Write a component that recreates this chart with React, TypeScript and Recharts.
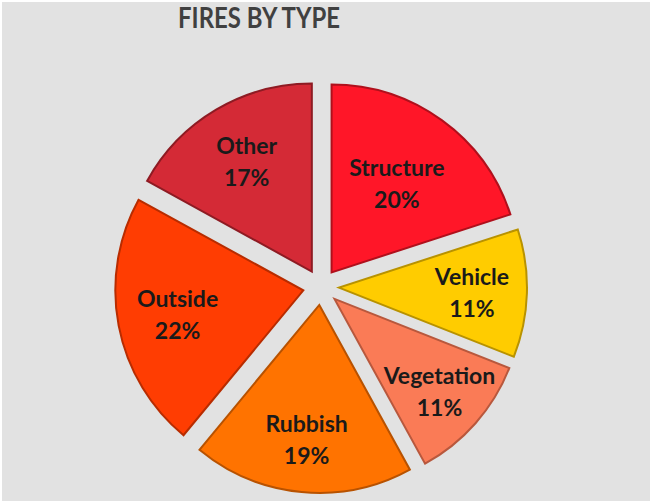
import React from 'react';
import { PieChart, Pie, Cell } from 'recharts';

const categories = ['Structure', 'Vehicle', 'Vegetation', 'Rubbish', 'Outside', 'Other'];
const values = [20, 11, 11, 19, 22, 17];
const colors = ['#FF1628', '#FFCC00', '#FA7B56', '#FF7300', '#FF3D02', '#D42A36'];
const strokes = ['#B0101C', '#B89200', '#B8583D', '#B85200', '#B82C00', '#8E1B23'];
const labelRadii = [111, 133, 140, 135, 128, 128];
const title = 'FIRES BY TYPE';

const W = 650;
const H = 501;
const CX = 321;
const CY = 287;
const R = 188;
const EXPLODE = 18;
const RAD = Math.PI / 180;

const data = categories.map((name, i) => ({ name, value: values[i] }));
const total = values.reduce((a, b) => a + b, 0);

const midAngles: number[] = [];
{
  let cum = 0;
  values.forEach((v) => {
    midAngles.push(90 - (360 * (cum + v / 2)) / total);
    cum += v;
  });
}

const offsets = midAngles.map((a) => ({
  dx: EXPLODE * Math.cos(a * RAD),
  dy: -EXPLODE * Math.sin(a * RAD),
}));

const renderLabel = (props: any) => {
  const { index, midAngle, value } = props;
  const r = EXPLODE + labelRadii[index];
  const x = CX + r * Math.cos(-midAngle * RAD);
  const y = CY + r * Math.sin(-midAngle * RAD);
  const pct = Math.round((value / total) * 100);
  return (
    <text
      x={x}
      y={y}
      textAnchor="middle"
      fill="#1A1A1A"
      fontFamily="Lato, 'Open Sans', sans-serif"
      fontWeight={700}
      fontSize={23}
    >
      <tspan x={x} dy={-7}>{categories[index]}</tspan>
      <tspan x={x} dy={32}>{pct}%</tspan>
    </text>
  );
};

export default function App() {
  return (
    <div
      style={{
        position: 'absolute',
        left: 0,
        top: 0,
        width: W,
        height: H,
        background: '#E2E2E2',
        boxSizing: 'border-box',
        borderLeft: '2px solid #FFFFFF',
        borderTop: '2px solid #FFFFFF',
      }}
    >
      <svg
        width={W}
        height={40}
        style={{ position: 'absolute', left: -2, top: -2 }}
      >
        <text
          x={259}
          y={28}
          textAnchor="middle"
          fill="#404040"
          fontFamily="Lato, 'Open Sans', sans-serif"
          fontWeight={700}
          fontSize={28}
          textLength={162}
          lengthAdjust="spacingAndGlyphs"
        >
          {title}
        </text>
      </svg>
      <div style={{ position: 'absolute', left: -2, top: -2 }}>
        <PieChart width={W} height={H} margin={{ top: 0, right: 0, bottom: 0, left: 0 }}>
          {values.map((_, j) => (
            <Pie
              key={`slice-${j}`}
              data={data}
              dataKey="value"
              nameKey="name"
              cx={CX + offsets[j].dx}
              cy={CY + offsets[j].dy}
              outerRadius={R}
              innerRadius={0}
              startAngle={90}
              endAngle={-270}
              isAnimationActive={false}
              label={false}
              labelLine={false}
            >
              {data.map((_, i) => (
                <Cell
                  key={`c-${j}-${i}`}
                  fill={i === j ? colors[i] : 'none'}
                  stroke={i === j ? strokes[i] : 'none'}
                  strokeWidth={i === j ? 2 : 0}
                />
              ))}
            </Pie>
          ))}
          <Pie
            data={data}
            dataKey="value"
            nameKey="name"
            cx={CX}
            cy={CY}
            outerRadius={R}
            startAngle={90}
            endAngle={-270}
            isAnimationActive={false}
            label={renderLabel}
            labelLine={false}
          >
            {data.map((_, i) => (
              <Cell key={`l-${i}`} fill="none" stroke="none" />
            ))}
          </Pie>
        </PieChart>
      </div>
    </div>
  );
}
